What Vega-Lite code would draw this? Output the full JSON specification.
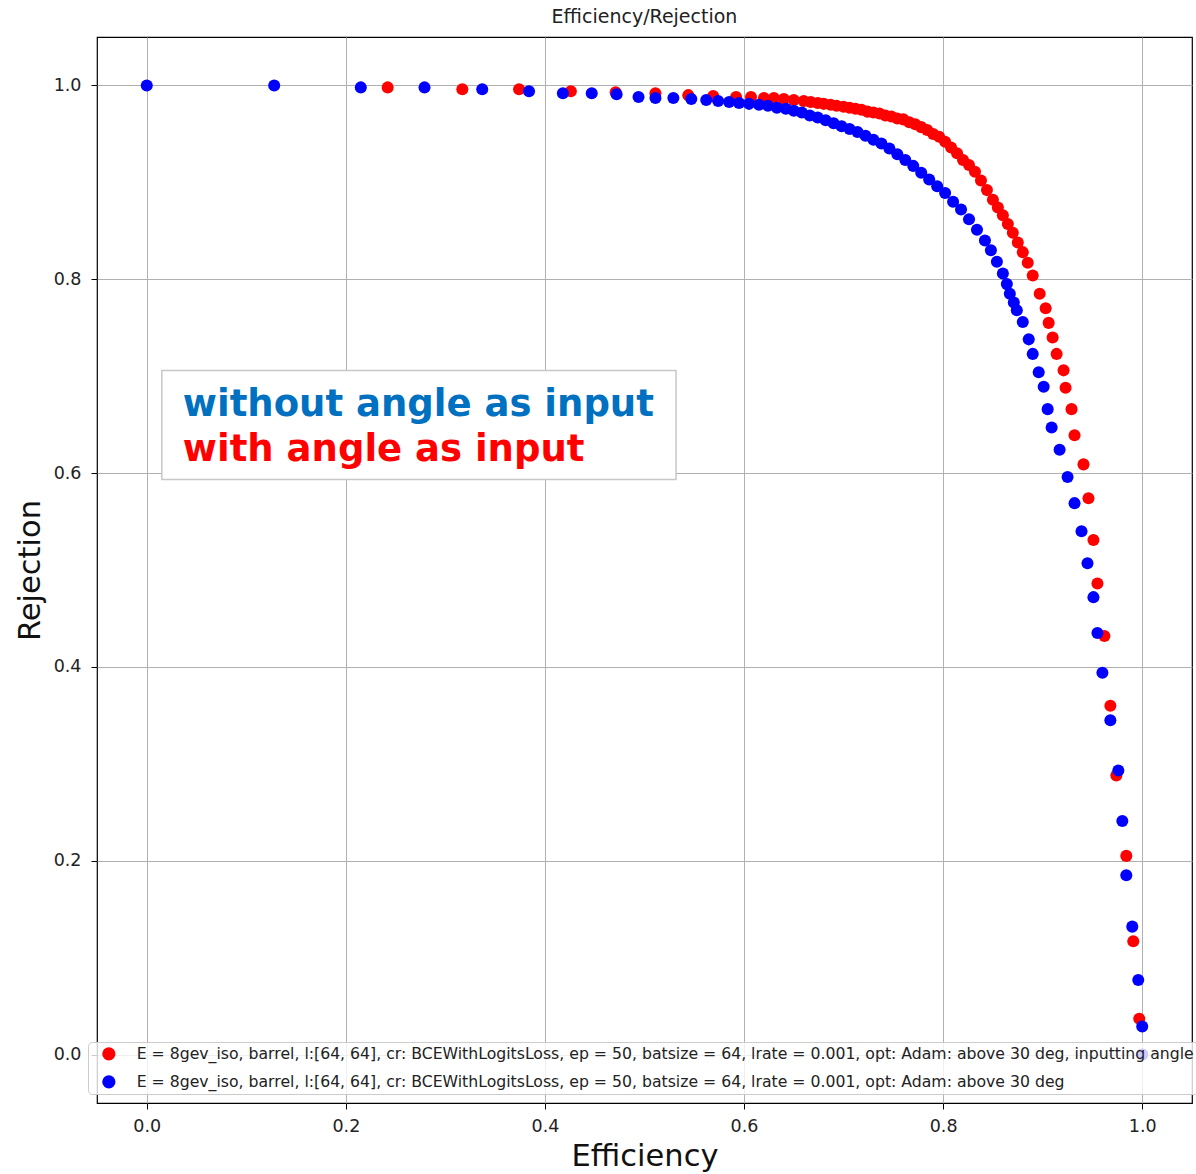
{
  "$schema": "https://vega.github.io/schema/vega-lite/v6.json",
  "width": 1095,
  "height": 1066,
  "autosize": {"type": "none"},
  "padding": {"left": 97, "top": 37, "right": 4, "bottom": 71},
  "background": "white",
  "config": {"view": {"stroke": "#000", "strokeWidth": 1.2}, "font": "DejaVu Sans"},
  "title": {"text": "Efficiency/Rejection", "fontSize": 19, "font": "DejaVu Sans", "fontWeight": "normal", "color": "#222", "baseline": "alphabetic", "offset": -5, "anchor": "middle"},
  "layer": [
    {
      "data": {"values": [
        {"run": "with", "eff": 0.242, "rej": 0.998},
        {"run": "with", "eff": 0.317, "rej": 0.996},
        {"run": "with", "eff": 0.374, "rej": 0.996},
        {"run": "with", "eff": 0.426, "rej": 0.994},
        {"run": "with", "eff": 0.471, "rej": 0.993},
        {"run": "with", "eff": 0.511, "rej": 0.992},
        {"run": "with", "eff": 0.544, "rej": 0.990},
        {"run": "with", "eff": 0.569, "rej": 0.989},
        {"run": "with", "eff": 0.592, "rej": 0.988},
        {"run": "with", "eff": 0.607, "rej": 0.988},
        {"run": "with", "eff": 0.620, "rej": 0.987},
        {"run": "with", "eff": 0.630, "rej": 0.987},
        {"run": "with", "eff": 0.640, "rej": 0.986},
        {"run": "with", "eff": 0.650, "rej": 0.985},
        {"run": "with", "eff": 0.660, "rej": 0.984},
        {"run": "with", "eff": 0.667, "rej": 0.983},
        {"run": "with", "eff": 0.674, "rej": 0.982},
        {"run": "with", "eff": 0.680, "rej": 0.981},
        {"run": "with", "eff": 0.687, "rej": 0.980},
        {"run": "with", "eff": 0.693, "rej": 0.979},
        {"run": "with", "eff": 0.700, "rej": 0.978},
        {"run": "with", "eff": 0.706, "rej": 0.977},
        {"run": "with", "eff": 0.712, "rej": 0.976},
        {"run": "with", "eff": 0.718, "rej": 0.975},
        {"run": "with", "eff": 0.724, "rej": 0.973},
        {"run": "with", "eff": 0.730, "rej": 0.972},
        {"run": "with", "eff": 0.736, "rej": 0.971},
        {"run": "with", "eff": 0.742, "rej": 0.969},
        {"run": "with", "eff": 0.748, "rej": 0.968},
        {"run": "with", "eff": 0.754, "rej": 0.966},
        {"run": "with", "eff": 0.760, "rej": 0.965},
        {"run": "with", "eff": 0.766, "rej": 0.962},
        {"run": "with", "eff": 0.772, "rej": 0.960},
        {"run": "with", "eff": 0.778, "rej": 0.957},
        {"run": "with", "eff": 0.784, "rej": 0.954},
        {"run": "with", "eff": 0.790, "rej": 0.950},
        {"run": "with", "eff": 0.796, "rej": 0.947},
        {"run": "with", "eff": 0.802, "rej": 0.942},
        {"run": "with", "eff": 0.808, "rej": 0.936},
        {"run": "with", "eff": 0.814, "rej": 0.930},
        {"run": "with", "eff": 0.820, "rej": 0.923},
        {"run": "with", "eff": 0.826, "rej": 0.918},
        {"run": "with", "eff": 0.832, "rej": 0.911},
        {"run": "with", "eff": 0.838, "rej": 0.902},
        {"run": "with", "eff": 0.844, "rej": 0.892},
        {"run": "with", "eff": 0.850, "rej": 0.882},
        {"run": "with", "eff": 0.855, "rej": 0.874},
        {"run": "with", "eff": 0.860, "rej": 0.866},
        {"run": "with", "eff": 0.865, "rej": 0.857},
        {"run": "with", "eff": 0.870, "rej": 0.848},
        {"run": "with", "eff": 0.875, "rej": 0.838},
        {"run": "with", "eff": 0.880, "rej": 0.828},
        {"run": "with", "eff": 0.885, "rej": 0.817},
        {"run": "with", "eff": 0.890, "rej": 0.804},
        {"run": "with", "eff": 0.897, "rej": 0.785},
        {"run": "with", "eff": 0.903, "rej": 0.770},
        {"run": "with", "eff": 0.906, "rej": 0.755},
        {"run": "with", "eff": 0.910, "rej": 0.740},
        {"run": "with", "eff": 0.914, "rej": 0.723},
        {"run": "with", "eff": 0.921, "rej": 0.706},
        {"run": "with", "eff": 0.923, "rej": 0.688},
        {"run": "with", "eff": 0.929, "rej": 0.666},
        {"run": "with", "eff": 0.932, "rej": 0.639},
        {"run": "with", "eff": 0.941, "rej": 0.609},
        {"run": "with", "eff": 0.946, "rej": 0.574},
        {"run": "with", "eff": 0.951, "rej": 0.531},
        {"run": "with", "eff": 0.955, "rej": 0.486},
        {"run": "with", "eff": 0.962, "rej": 0.432},
        {"run": "with", "eff": 0.968, "rej": 0.360},
        {"run": "with", "eff": 0.974, "rej": 0.288},
        {"run": "with", "eff": 0.984, "rej": 0.205},
        {"run": "with", "eff": 0.991, "rej": 0.117},
        {"run": "with", "eff": 0.997, "rej": 0.037},
        {"run": "with", "eff": 1.0, "rej": 0.0},
        {"run": "without", "eff": 0.0, "rej": 1.0},
        {"run": "without", "eff": 0.128, "rej": 1.0},
        {"run": "without", "eff": 0.215, "rej": 0.998},
        {"run": "without", "eff": 0.279, "rej": 0.998},
        {"run": "without", "eff": 0.337, "rej": 0.996},
        {"run": "without", "eff": 0.384, "rej": 0.994},
        {"run": "without", "eff": 0.418, "rej": 0.992},
        {"run": "without", "eff": 0.447, "rej": 0.992},
        {"run": "without", "eff": 0.472, "rej": 0.991},
        {"run": "without", "eff": 0.494, "rej": 0.988},
        {"run": "without", "eff": 0.511, "rej": 0.987},
        {"run": "without", "eff": 0.529, "rej": 0.987},
        {"run": "without", "eff": 0.547, "rej": 0.986},
        {"run": "without", "eff": 0.562, "rej": 0.985},
        {"run": "without", "eff": 0.574, "rej": 0.984},
        {"run": "without", "eff": 0.585, "rej": 0.983},
        {"run": "without", "eff": 0.595, "rej": 0.982},
        {"run": "without", "eff": 0.605, "rej": 0.981},
        {"run": "without", "eff": 0.615, "rej": 0.980},
        {"run": "without", "eff": 0.624, "rej": 0.979},
        {"run": "without", "eff": 0.633, "rej": 0.977},
        {"run": "without", "eff": 0.642, "rej": 0.976},
        {"run": "without", "eff": 0.650, "rej": 0.974},
        {"run": "without", "eff": 0.658, "rej": 0.972},
        {"run": "without", "eff": 0.666, "rej": 0.969},
        {"run": "without", "eff": 0.674, "rej": 0.967},
        {"run": "without", "eff": 0.682, "rej": 0.964},
        {"run": "without", "eff": 0.690, "rej": 0.961},
        {"run": "without", "eff": 0.698, "rej": 0.958},
        {"run": "without", "eff": 0.706, "rej": 0.955},
        {"run": "without", "eff": 0.714, "rej": 0.952},
        {"run": "without", "eff": 0.722, "rej": 0.948},
        {"run": "without", "eff": 0.730, "rej": 0.944},
        {"run": "without", "eff": 0.738, "rej": 0.940},
        {"run": "without", "eff": 0.746, "rej": 0.935},
        {"run": "without", "eff": 0.754, "rej": 0.929},
        {"run": "without", "eff": 0.762, "rej": 0.923},
        {"run": "without", "eff": 0.770, "rej": 0.917},
        {"run": "without", "eff": 0.778, "rej": 0.910},
        {"run": "without", "eff": 0.786, "rej": 0.903},
        {"run": "without", "eff": 0.794, "rej": 0.896},
        {"run": "without", "eff": 0.802, "rej": 0.889},
        {"run": "without", "eff": 0.810, "rej": 0.880},
        {"run": "without", "eff": 0.818, "rej": 0.872},
        {"run": "without", "eff": 0.826, "rej": 0.862},
        {"run": "without", "eff": 0.834, "rej": 0.851},
        {"run": "without", "eff": 0.842, "rej": 0.840},
        {"run": "without", "eff": 0.848, "rej": 0.830},
        {"run": "without", "eff": 0.854, "rej": 0.818},
        {"run": "without", "eff": 0.860, "rej": 0.806},
        {"run": "without", "eff": 0.864, "rej": 0.795},
        {"run": "without", "eff": 0.867, "rej": 0.785},
        {"run": "without", "eff": 0.871, "rej": 0.776},
        {"run": "without", "eff": 0.874, "rej": 0.768},
        {"run": "without", "eff": 0.880, "rej": 0.756},
        {"run": "without", "eff": 0.886, "rej": 0.738},
        {"run": "without", "eff": 0.890, "rej": 0.723},
        {"run": "without", "eff": 0.896, "rej": 0.704},
        {"run": "without", "eff": 0.901, "rej": 0.689},
        {"run": "without", "eff": 0.905, "rej": 0.666},
        {"run": "without", "eff": 0.909, "rej": 0.647},
        {"run": "without", "eff": 0.917, "rej": 0.624},
        {"run": "without", "eff": 0.925, "rej": 0.596},
        {"run": "without", "eff": 0.932, "rej": 0.569},
        {"run": "without", "eff": 0.939, "rej": 0.540},
        {"run": "without", "eff": 0.945, "rej": 0.507},
        {"run": "without", "eff": 0.951, "rej": 0.472},
        {"run": "without", "eff": 0.955, "rej": 0.435},
        {"run": "without", "eff": 0.960, "rej": 0.394},
        {"run": "without", "eff": 0.968, "rej": 0.345},
        {"run": "without", "eff": 0.976, "rej": 0.293},
        {"run": "without", "eff": 0.980, "rej": 0.241},
        {"run": "without", "eff": 0.984, "rej": 0.185},
        {"run": "without", "eff": 0.990, "rej": 0.132},
        {"run": "without", "eff": 0.996, "rej": 0.077},
        {"run": "without", "eff": 1.0, "rej": 0.029},
        {"run": "without", "eff": 1.0, "rej": 0.0}
      ]},
      "transform": [
        {"lookup": "run", "from": {"data": {"values": [
          {"run": "with", "label": "E = 8gev_iso, barrel, l:[64, 64], cr: BCEWithLogitsLoss, ep = 50, batsize = 64, lrate = 0.001, opt: Adam: above 30 deg, inputting angle"},
          {"run": "without", "label": "E = 8gev_iso, barrel, l:[64, 64], cr: BCEWithLogitsLoss, ep = 50, batsize = 64, lrate = 0.001, opt: Adam: above 30 deg"}
        ]}, "key": "run", "fields": ["label"]}}
      ],
      "mark": {"type": "circle", "size": 145, "opacity": 1},
      "encoding": {
        "x": {"field": "eff", "type": "quantitative", "title": "Efficiency",
          "scale": {"domain": [-0.05, 1.05], "nice": false, "zero": false},
          "axis": {"values": [0, 0.2, 0.4, 0.6, 0.8, 1.0], "format": ".1f", "grid": true, "gridColor": "#b0b0b0", "gridWidth": 1, "domain": false, "tickColor": "#000", "tickSize": 6, "labelFont": "DejaVu Sans", "labelFontSize": 17.5, "labelColor": "#222", "labelPadding": 8, "titleFont": "DejaVu Sans", "titleFontSize": 30.5, "titleFontWeight": "normal", "titleColor": "#111", "titleY": 62, "titleBaseline": "alphabetic"}},
        "y": {"field": "rej", "type": "quantitative", "title": "Rejection",
          "scale": {"domain": [-0.05, 1.05], "nice": false, "zero": false},
          "axis": {"values": [0, 0.2, 0.4, 0.6, 0.8, 1.0], "format": ".1f", "grid": true, "gridColor": "#b0b0b0", "gridWidth": 1, "domain": false, "tickColor": "#000", "tickSize": 6, "labelFont": "DejaVu Sans", "labelFontSize": 17.5, "labelColor": "#222", "labelPadding": 10, "titleFont": "DejaVu Sans", "titleFontSize": 30.5, "titleFontWeight": "normal", "titleColor": "#111", "titleX": -58, "titleBaseline": "alphabetic"}},
        "color": {"field": "label", "type": "nominal",
          "scale": {"domain": [
            "E = 8gev_iso, barrel, l:[64, 64], cr: BCEWithLogitsLoss, ep = 50, batsize = 64, lrate = 0.001, opt: Adam: above 30 deg, inputting angle",
            "E = 8gev_iso, barrel, l:[64, 64], cr: BCEWithLogitsLoss, ep = 50, batsize = 64, lrate = 0.001, opt: Adam: above 30 deg"
          ], "range": ["#ff0000", "#0000ff"]},
          "legend": {"orient": "none", "legendX": -9, "legendY": 1005, "title": null, "padding": 4, "symbolOffset": 9, "labelOffset": 20, "labelFont": "DejaVu Sans", "labelFontSize": 15.7, "labelColor": "#222", "labelLimit": 3000, "symbolSize": 177, "symbolType": "circle", "symbolStrokeWidth": 0, "fillColor": "rgba(255,255,255,0.8)", "strokeColor": "#cccccc", "cornerRadius": 4, "rowPadding": 11}}
      }
    },
    {
      "data": {"values": [{"x1": 0.0151, "x2": 0.5317, "y1": 0.5934, "y2": 0.7059}]},
      "mark": {"type": "rect", "fill": "white", "stroke": "#c8c8c8", "strokeWidth": 1.5},
      "encoding": {
        "x": {"field": "x1", "type": "quantitative", "title": "Efficiency"},
        "x2": {"field": "x2"},
        "y": {"field": "y1", "type": "quantitative", "title": "Rejection"},
        "y2": {"field": "y2"}
      }
    },
    {
      "data": {"values": [{"txt": "without angle as input", "ex": 0.0362, "ry": 0.6584}]},
      "mark": {"type": "text", "font": "DejaVu Sans", "fontWeight": "bold", "fontSize": 37, "align": "left", "baseline": "alphabetic", "color": "#0070c0"},
      "encoding": {
        "x": {"field": "ex", "type": "quantitative", "title": "Efficiency"},
        "y": {"field": "ry", "type": "quantitative", "title": "Rejection"},
        "text": {"field": "txt"}
      }
    },
    {
      "data": {"values": [{"txt": "with angle as input", "ex": 0.0362, "ry": 0.612}]},
      "mark": {"type": "text", "font": "DejaVu Sans", "fontWeight": "bold", "fontSize": 37, "align": "left", "baseline": "alphabetic", "color": "#ff0000"},
      "encoding": {
        "x": {"field": "ex", "type": "quantitative", "title": "Efficiency"},
        "y": {"field": "ry", "type": "quantitative", "title": "Rejection"},
        "text": {"field": "txt"}
      }
    }
  ]
}
